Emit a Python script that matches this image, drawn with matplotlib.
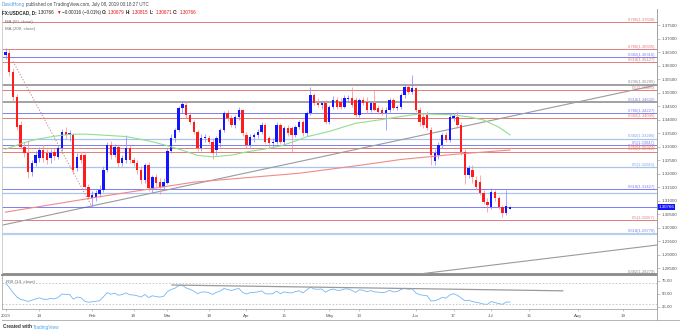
import matplotlib
matplotlib.use("Agg")
import matplotlib.pyplot as plt
import numpy as np
from matplotlib.lines import Line2D

plt.rcParams['font.family'] = ['Liberation Sans', 'DejaVu Sans']

W, H = 680, 334

# USDCAD daily bars, 2019-01-01 .. 2019-07-08 (weekdays)
opens = [1.3639, 1.3646, 1.3576, 1.3483, 1.3379, 1.3299, 1.3275, 1.3207, 1.3238, 1.3256,
         1.3287, 1.3275, 1.3256, 1.3280, 1.3262, 1.3293, 1.3355, 1.3343, 1.3343, 1.3219,
         1.3268, 1.3268, 1.3151, 1.3108, 1.3114, 1.3124, 1.3140, 1.3213, 1.3306, 1.3268,
         1.3299, 1.3238, 1.3250, 1.3293, 1.3250, 1.3238, 1.3213, 1.3176, 1.3231, 1.3145,
         1.3188, 1.3170, 1.3151, 1.3165, 1.3285, 1.3330, 1.3362, 1.3441, 1.3454, 1.3417,
         1.3392, 1.3355, 1.3293, 1.3330, 1.3330, 1.3318, 1.3287, 1.3312, 1.3361, 1.3423,
         1.3404, 1.3380, 1.3410, 1.3435, 1.3343, 1.3306, 1.3336, 1.3343, 1.3355, 1.3380,
         1.3330, 1.3312, 1.3318, 1.3380, 1.3318, 1.3367, 1.3367, 1.3343, 1.3373, 1.3392,
         1.3349, 1.3423, 1.3491, 1.3460, 1.3454, 1.3460, 1.3392, 1.3448, 1.3472, 1.3466,
         1.3448, 1.3476, 1.3478, 1.3472, 1.3417, 1.3472, 1.3466, 1.3435, 1.3460, 1.3441,
         1.3435, 1.3423, 1.3435, 1.3472, 1.3441, 1.3448, 1.3491, 1.3522, 1.3503, 1.3515,
         1.3435, 1.3410, 1.3417, 1.3361, 1.3245, 1.3269, 1.3306, 1.3343, 1.3324, 1.3405,
         1.3410, 1.3380, 1.3281, 1.3194, 1.3213, 1.3175, 1.3170, 1.3127, 1.3096, 1.3077,
         1.3133, 1.3108, 1.3077, 1.3053, 1.30679]
highs = [1.3665, 1.3660, 1.3592, 1.3496, 1.3394, 1.3318, 1.3324, 1.3250, 1.3285, 1.3298,
         1.3305, 1.3290, 1.3292, 1.3296, 1.3304, 1.3365, 1.3373, 1.3362, 1.3350, 1.3276,
         1.3285, 1.3276, 1.3162, 1.3136, 1.3140, 1.3158, 1.3226, 1.3316, 1.3320, 1.3310,
         1.3305, 1.3270, 1.3343, 1.3306, 1.3262, 1.3250, 1.3226, 1.3240, 1.3242, 1.3196,
         1.3200, 1.3182, 1.3185, 1.3295, 1.3345, 1.3370, 1.3450, 1.3468, 1.3467, 1.3428,
         1.3400, 1.3362, 1.3345, 1.3348, 1.3342, 1.3330, 1.3340, 1.3368, 1.3430, 1.3436,
         1.3415, 1.3418, 1.3445, 1.3440, 1.3355, 1.3345, 1.3350, 1.3365, 1.3392, 1.3388,
         1.3340, 1.3330, 1.3390, 1.3388, 1.3375, 1.3380, 1.3375, 1.3380, 1.3398, 1.3398,
         1.3430, 1.3522, 1.3500, 1.3478, 1.3468, 1.3472, 1.3455, 1.3488, 1.3485, 1.3480,
         1.3490, 1.3490, 1.3520, 1.3485, 1.3480, 1.3485, 1.3482, 1.3468, 1.3509, 1.3455,
         1.3448, 1.3445, 1.3480, 1.3478, 1.3455, 1.3500, 1.3528, 1.3530, 1.3565, 1.3522,
         1.3445, 1.3425, 1.3430, 1.3372, 1.3290, 1.3315, 1.3350, 1.3355, 1.3420, 1.3424,
         1.3432, 1.3392, 1.3290, 1.3230, 1.3231, 1.3190, 1.3194, 1.3138, 1.3108, 1.3145,
         1.3140, 1.3115, 1.3085, 1.3139, 1.30815]
lows = [1.3625, 1.3562, 1.3470, 1.3360, 1.3290, 1.3262, 1.3183, 1.3190, 1.3226, 1.3244,
        1.3242, 1.3235, 1.3240, 1.3250, 1.3254, 1.3284, 1.3326, 1.3320, 1.3200, 1.3210,
        1.3238, 1.3140, 1.3105, 1.3077, 1.3100, 1.3112, 1.3130, 1.3205, 1.3255, 1.3260,
        1.3225, 1.3226, 1.3240, 1.3240, 1.3228, 1.3200, 1.3160, 1.3165, 1.3135, 1.3128,
        1.3150, 1.3125, 1.3140, 1.3160, 1.3275, 1.3318, 1.3355, 1.3425, 1.3405, 1.3385,
        1.3345, 1.3285, 1.3285, 1.3315, 1.3310, 1.3252, 1.3270, 1.3300, 1.3352, 1.3396,
        1.3372, 1.3370, 1.3400, 1.3340, 1.3296, 1.3298, 1.3315, 1.3330, 1.3345, 1.3310,
        1.3300, 1.3300, 1.3310, 1.3310, 1.3310, 1.3340, 1.3281, 1.3335, 1.3365, 1.3340,
        1.3340, 1.3415, 1.3452, 1.3445, 1.3440, 1.3385, 1.3385, 1.3440, 1.3440, 1.3440,
        1.3442, 1.3465, 1.3445, 1.3410, 1.3410, 1.3455, 1.3425, 1.3428, 1.3430, 1.3422,
        1.3415, 1.3361, 1.3428, 1.3435, 1.3435, 1.3440, 1.3480, 1.3495, 1.3495, 1.3428,
        1.3375, 1.3368, 1.3360, 1.3232, 1.3232, 1.3255, 1.3296, 1.3315, 1.3318, 1.3396,
        1.3370, 1.3270, 1.3160, 1.3185, 1.3164, 1.3140, 1.3120, 1.3088, 1.3059, 1.3068,
        1.3100, 1.3070, 1.3040, 1.3046, 1.30671]
closes = [1.3650, 1.3576, 1.3483, 1.3372, 1.3299, 1.3275, 1.3207, 1.3238, 1.3268, 1.3287,
          1.3256, 1.3250, 1.3275, 1.3263, 1.3293, 1.3355, 1.3343, 1.3349, 1.3213, 1.3262,
          1.3250, 1.3151, 1.3114, 1.3120, 1.3126, 1.3140, 1.3213, 1.3306, 1.3268, 1.3299,
          1.3238, 1.3256, 1.3293, 1.3250, 1.3238, 1.3213, 1.3176, 1.3231, 1.3145, 1.3188,
          1.3164, 1.3151, 1.3170, 1.3285, 1.3330, 1.3362, 1.3441, 1.3458, 1.3417, 1.3392,
          1.3355, 1.3293, 1.3330, 1.3335, 1.3318, 1.3275, 1.3330, 1.3361, 1.3423, 1.3404,
          1.3380, 1.3410, 1.3435, 1.3349, 1.3306, 1.3336, 1.3343, 1.3355, 1.3380, 1.3318,
          1.3312, 1.3318, 1.3380, 1.3318, 1.3367, 1.3349, 1.3343, 1.3373, 1.3392, 1.3349,
          1.3423, 1.3491, 1.3460, 1.3454, 1.3460, 1.3392, 1.3448, 1.3472, 1.3448, 1.3448,
          1.3478, 1.3480, 1.3454, 1.3417, 1.3472, 1.3460, 1.3435, 1.3460, 1.3435, 1.3429,
          1.3423, 1.3435, 1.3472, 1.3441, 1.3448, 1.3491, 1.3522, 1.3503, 1.3515, 1.3435,
          1.3392, 1.3380, 1.3367, 1.3268, 1.3275, 1.3306, 1.3343, 1.3324, 1.3410, 1.3413,
          1.3380, 1.3281, 1.3194, 1.3219, 1.3188, 1.3151, 1.3127, 1.3096, 1.3083, 1.3133,
          1.3108, 1.3077, 1.3053, 1.30782, 1.30766]

# moving averages (bar index, value)
ma50_bar = [0, 4, 8, 13, 17, 21, 26, 32, 38, 43, 47, 51, 55, 60, 64, 69, 73, 77, 80, 86,
            93, 100, 105, 110, 118, 123, 127, 131, 134]
ma50_val = [1.3290, 1.3310, 1.3326, 1.3338, 1.3345, 1.3346, 1.3342, 1.3337, 1.3321, 1.3303,
            1.3286, 1.3267, 1.3262, 1.3268, 1.3280, 1.3291, 1.3302, 1.3320, 1.3336, 1.3356,
            1.3386, 1.3400, 1.3411, 1.3421, 1.3418, 1.3410, 1.3398, 1.3372, 1.3343]
ma200_bar = [0, 25, 50, 78, 95, 105, 120, 134]
ma200_val = [1.3057, 1.3114, 1.3168, 1.3201, 1.3232, 1.3252, 1.3272, 1.3287]

# RSI(14) per bar
rsi = [71, 62, 52, 44, 39, 37.5, 35, 37.5, 40, 42,
       39.5, 39, 41, 40, 43, 49.5, 48.5, 49, 39.5, 43.5,
       42.5, 35.5, 33.5, 34.5, 35.5, 36.5, 44, 52, 49, 51,
       47, 48.5, 51.5, 48, 47.5, 46, 43.5, 48.5, 42.5, 46,
       44.5, 43.5, 45, 54, 58, 60.5, 65.5, 66, 61, 58.5,
       55, 50, 53, 53.5, 52, 48.5, 52.5, 55, 60, 58,
       56, 58.5, 60, 52.5, 49.5, 52, 52.5, 53.5, 55.5, 50,
       49.5, 50, 55, 50, 53.5, 52, 51.5, 54, 55.5, 51.5,
       57, 62.5, 59, 58.5, 59, 53, 57, 59, 56.5, 56.5,
       59, 59, 56.5, 52.5, 57.5, 56.5, 54, 56, 53.5, 53,
       52, 53, 56.5, 53.5, 54, 58, 60.5, 58.5, 59.5, 51.5,
       48, 47, 46, 36, 36.5, 39, 43, 41.5, 47.5, 50,
       47, 42, 36.5, 37.5, 35, 33.5, 32, 30, 29.5, 35,
       33, 31, 29.5, 34, 34]

# fibonacci levels: price, label, kind
fib_price = [1.37608, 1.36605, 1.36316, 1.36127, 1.35295, 1.35086, 1.34632, 1.34227, 1.34045,
             1.33286, 1.33047, 1.32941, 1.32812, 1.32243, 1.31427, 1.31290, 1.30267, 1.29778,
             1.28279]
fib_label = ["0.786(1.37608)", "0.786(1.36605)", "0.382(1.36316)", "0.618(1.36127)",
             "0.236(1.35295)", "0.5(1.35086)", "0.618(1.34632)", "0.786(1.34227)",
             "0.382(1.34045)", "0.382(1.33286)", "0.5(1.33047)", "0.618(1.32941)",
             "0.236(1.32812)", "0.5(1.32243)", "0.618(1.31427)", "", "0.5(1.30267)",
             "0.618(1.29778)", "0.382(1.28279)"]
fib_kind = ["r", "r", "b", "r", "g", "r", "b", "b", "r", "lb", "b", "r", "r", "lb", "b", "lb",
            "r", "b", "g"]
gray_levels = [1.35295, 1.34632]

# trendlines (bar index, price)
trend_up = ([23, 160], [1.3080, 1.3489])
trend_low = ([110, 173], [1.2828, 1.2935])
fib_diag = ([2, 23], [1.3615, 1.3076])
rsi_trend = ([44.2, 148], [66.7, 55.5])

tick_dates = ["2019-01-01", "2019-01-14", "2019-02-01", "2019-02-18", "2019-03-01",
              "2019-03-18", "2019-04-01", "2019-04-15", "2019-05-01", "2019-05-13",
              "2019-06-03", "2019-06-17", "2019-07-01", "2019-07-15", "2019-08-01",
              "2019-08-19"]
tick_text = ["2019", "14", "Feb", "18", "Mar", "18", "Apr", "15", "May", "13", "Jun", "17",
             "Jul", "15", "Aug", "19"]
last_price = 1.30766

UP, DN = "#1414ff", "#ff1c1c"
WUP, WDN = "#8c8cff", "#ff9090"
KIND_COL = {"r": "#e27c7c", "b": "#7d7df0", "lb": "#a9c4ef", "g": "#8a8a8a"}

fig = plt.figure(figsize=(W / 100, H / 100), dpi=100)
fig.patch.set_facecolor("white")

XL = (-0.93, 173.04)
ax = fig.add_axes([2 / W, (H - 275) / H, 655 / W, 266 / H])
ax_r = fig.add_axes([2 / W, (H - 309) / H, 655 / W, 33 / H])

bars = np.arange(len(closes))
o = np.array(opens); c = np.array(closes)
hi = np.array(highs); lo = np.array(lows)
up = c >= o

# fib levels
for p, lab, k in zip(fib_price, fib_label, fib_kind):
    col = KIND_COL[k]
    lw = 1.3 if k == "g" else (0.9 if k == "lb" else 0.7)
    ax.axhline(p, color=col, lw=lw, zorder=1)
    if lab:
        ax.text(172.6, p + 0.00012, lab, ha="right", va="bottom", fontsize=3,
                color=col if k != "lb" else "#7fa3e0", zorder=6)
for p in gray_levels:
    ax.axhline(p, color="#a3a3a3", lw=1.4, zorder=1)
ax.axhline(1.29778, color="#b8cdf2", lw=1.6, zorder=1)

# trendlines
ax.axline((trend_up[0][0], trend_up[1][0]), (trend_up[0][1], trend_up[1][1]),
          color="#9a9a9a", lw=0.8, zorder=2)
ax.axline((trend_low[0][0], trend_low[1][0]), (trend_low[0][1], trend_low[1][1]),
          color="#9a9a9a", lw=0.8, zorder=2)
ax.plot(*fib_diag, color="#c58a8a", lw=0.8, ls=(0, (1, 1.6)), zorder=2)

# price line
ax.axhline(last_price, color="#4646ff", lw=0.5, zorder=2)

# candles
ax.vlines(bars[up], lo[up], hi[up], color=WUP, lw=0.55, zorder=3)
ax.vlines(bars[~up], lo[~up], hi[~up], color=WDN, lw=0.55, zorder=3)
bh = np.maximum(np.abs(c - o), 0.00006)
bb = np.minimum(o, c)
ax.bar(bars[up], bh[up], bottom=bb[up], width=0.64, color=UP, lw=0, zorder=4)
ax.bar(bars[~up], bh[~up], bottom=bb[~up], width=0.64, color=DN, lw=0, zorder=4)

ax.plot(ma50_bar, ma50_val, color="#8fdf8f", lw=0.8, zorder=5)
ax.plot(ma200_bar, ma200_val, color="#f08a8a", lw=0.8, zorder=5)

ax.set_xlim(*XL)
ax.set_ylim(1.28241, 1.38093)
ax.set_yticks(np.arange(1.285, 1.3751, 0.005))
ax.yaxis.set_major_formatter(matplotlib.ticker.FormatStrFormatter("%.5f"))
ax.yaxis.tick_right()
ax.tick_params(axis="y", length=2, width=0.4, colors="#9a9a9a", labelcolor="#555555",
               labelsize=3.2, pad=1.5)
ax.tick_params(axis="x", bottom=False, labelbottom=False)
ax.spines["top"].set_visible(False)
ax.spines["left"].set_color("#c8c8c8"); ax.spines["left"].set_linewidth(0.6)
ax.spines["right"].set_color("#a0a0a0"); ax.spines["right"].set_linewidth(0.6)
ax.spines["bottom"].set_color("#8e8e8e"); ax.spines["bottom"].set_linewidth(1.4)

ax.text(1.002, last_price, "1.30766", transform=ax.get_yaxis_transform(), ha="left",
        va="center", fontsize=3.2, color="white", zorder=10,
        bbox=dict(boxstyle="square,pad=0.25", fc="#1212ff", ec="none"), clip_on=False)

# RSI panel
ax_r.plot(bars, rsi, color="#74b6f4", lw=0.6)
ax_r.axhline(70, color="#c2c2c2", lw=0.6, ls=(0, (2, 2)))
ax_r.axhline(30, color="#c2c2c2", lw=0.6, ls=(0, (2, 2)))
ax_r.plot(*rsi_trend, color="#9a9a9a", lw=0.9)
ax_r.set_xlim(*XL)
ax_r.set_ylim(20.6, 84.0)
ax_r.set_yticks([25, 50, 75])
ax_r.set_yticklabels(["25.00", "50.00", "75.00"])
ax_r.yaxis.tick_right()
ax_r.tick_params(axis="y", length=2, width=0.4, colors="#9a9a9a", labelcolor="#555555",
                 labelsize=3.2, pad=1.5)
tick_pos = [np.busday_count("2019-01-01", d) for d in tick_dates]
ax_r.set_xticks(tick_pos)
ax_r.set_xticklabels(tick_text)
ax_r.tick_params(axis="x", length=1.5, width=0.4, colors="#9a9a9a", labelcolor="#555555",
                 labelsize=3.2, pad=2)
ax_r.spines["top"].set_visible(False)
for s in ("left", "right", "bottom"):
    ax_r.spines[s].set_color("#a8a8a8"); ax_r.spines[s].set_linewidth(0.6)
ax_r.text(0.006, 0.82, "RSI (14, close)", transform=ax_r.transAxes, fontsize=3.2,
          color="#666666", va="center")

# frame lines
fig.add_artist(Line2D([2 / W, 1], [(H - 320) / H] * 2, color="#a8a8a8", lw=0.6))
fig.add_artist(Line2D([657 / W] * 2, [(H - 320) / H, (H - 9) / H], color="#a0a0a0", lw=0.6))

# header texts
renderer = fig.canvas.get_renderer()


def runs(x_px, y_px, parts, size=3.3):
    x = x_px
    for txt, col, wt in parts:
        t = fig.text(x / W, 1 - y_px / H, txt, fontsize=size, color=col, fontweight=wt,
                     ha="left", va="center")
        x += t.get_window_extent(renderer).width + 1.2


runs(2, 4.5, [("DavidHong", "#4a9be0", "normal"),
              ("published on TradingView.com, July 08, 2019 00:18:27 UTC", "#444444", "normal")])
runs(2, 12.5, [("FX:USDCAD, D:", "#222222", "bold"), ("1.30766", "#222222", "normal"),
               ("▼", "#e01010", "normal"), ("\u22120.00016 (\u22120.01%)", "#222222", "normal"),
               ("O:", "#222222", "bold"), ("1.30679", "#e01010", "normal"),
               ("H:", "#222222", "bold"), ("1.30815", "#e01010", "normal"),
               ("L:", "#222222", "bold"), ("1.30671", "#e01010", "normal"),
               ("C:", "#222222", "bold"), ("1.30766", "#e01010", "normal")])
fig.text(5 / W, 1 - 22.5 / H, "MA (50, close)", fontsize=3.2, color="#777777", va="center")
fig.text(5 / W, 1 - 29 / H, "MA (200, close)", fontsize=3.2, color="#777777", va="center")
runs(3, 327, [("Created with", "#333333", "bold"), ("TradingView", "#4aa6ee", "normal")],
     size=3.4)

fig.savefig("out.png", dpi=100, facecolor="white")
